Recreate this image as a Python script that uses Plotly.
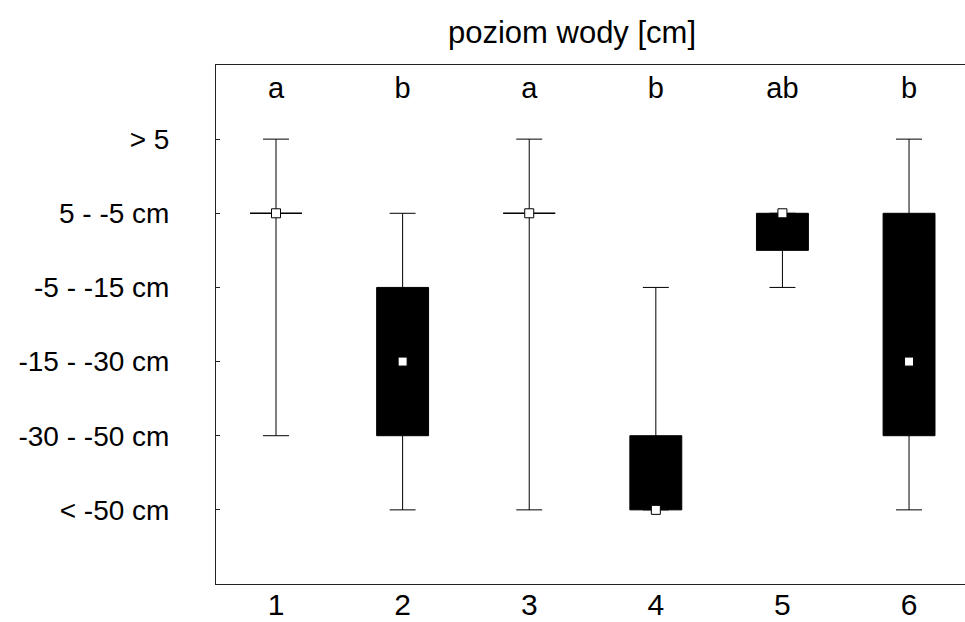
import plotly.graph_objects as go

# Water level classes (ordinal scale 1..6)
level_labels = ["< -50 cm", "-30 - -50 cm", "-15 - -30 cm", "-5 - -15 cm", "5 - -5 cm", "> 5"]
level_codes = [1, 2, 3, 4, 5, 6]

groups = [1, 2, 3, 4, 5, 6]
minimum = [2, 1, 1, 1, 4, 1]
q1 = [5, 2, 5, 1, 4.5, 2]
median = [5, 3, 5, 1, 5, 3]
q3 = [5, 4, 5, 2, 5, 5]
maximum = [6, 5, 6, 4, 5, 6]
letters = ["a", "b", "a", "b", "ab", "b"]

FONT = "Liberation Sans, Arial, sans-serif"

fig = go.Figure()

fig.add_trace(go.Box(
    x=groups, q1=q1, median=median, q3=q3,
    lowerfence=minimum, upperfence=maximum,
    width=0.41, whiskerwidth=0.5,
    fillcolor="black", line=dict(color="black", width=1),
    boxpoints=False, showlegend=False, hoverinfo="skip",
))

fig.add_trace(go.Scatter(
    x=groups, y=median, mode="markers",
    marker=dict(symbol="square", size=9, color="white",
                line=dict(color="black", width=1)),
    showlegend=False, hoverinfo="skip",
))

fig.add_trace(go.Scatter(
    x=groups, y=[6.65] * len(groups), mode="text", text=letters,
    textfont=dict(family=FONT, size=29, color="black"),
    showlegend=False, hoverinfo="skip",
))

fig.update_layout(
    width=965, height=622,
    margin=dict(l=216, r=0, t=65, b=38),
    paper_bgcolor="white", plot_bgcolor="white",
    font=dict(family=FONT, color="black"),
    title=dict(text="poziom wody [cm]", x=572 / 965, y=1 - 32 / 622,
               xanchor="center", yanchor="middle",
               font=dict(family=FONT, size=31, color="black")),
    xaxis=dict(range=[0.526, 6.442], tickvals=groups, ticktext=[str(g) for g in groups],
               showgrid=False, zeroline=False, showline=True, mirror=True,
               linecolor="#222", linewidth=1, ticks="", automargin=False,
               ticklabelstandoff=-6,
               tickfont=dict(family=FONT, size=30, color="black")),
    yaxis=dict(range=[0, 7], tickvals=level_codes, ticktext=level_labels,
               showgrid=False, zeroline=False, showline=True, mirror=False,
               linecolor="#222", linewidth=1, ticks="inside", ticklen=4,
               tickcolor="#222", ticklabelstandoff=40, automargin=False,
               tickfont=dict(family=FONT, size=28, color="black")),
)

fig.write_html("out.html")
